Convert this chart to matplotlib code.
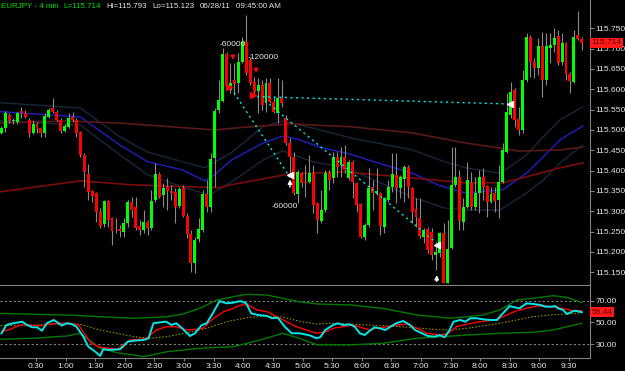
import matplotlib
matplotlib.use('Agg')
import matplotlib.pyplot as plt
import matplotlib.ticker as mticker
import numpy as np

BG = '#000000'
UP = '#00ff00'
DN = '#ff0000'
WICK = '#8a8a8a'
TXT = '#e6e6e6'
AXC = '#808080'
CYAN = '#00e8e8'

plt.rcParams['font.family'] = ['Liberation Sans', 'DejaVu Sans']

# ── 4-minute EURJPY bars (minutes after midnight, first bar 23:55 the day before)
start_min = -5
bar_min = 4
opens = [115.493, 115.505, 115.537, 115.521, 115.520, 115.547, 115.542, 115.525, 115.493, 115.515,
         115.505, 115.493, 115.532, 115.554, 115.545, 115.525, 115.498, 115.508, 115.532, 115.525,
         115.495, 115.439, 115.392, 115.350, 115.345, 115.299, 115.269, 115.326, 115.284, 115.255,
         115.257, 115.249, 115.271, 115.323, 115.311, 115.264, 115.254, 115.274, 115.259, 115.328,
         115.392, 115.340, 115.360, 115.350, 115.348, 115.313, 115.358, 115.289, 115.244, 115.173,
         115.232, 115.254, 115.343, 115.311, 115.431, 115.549, 115.572, 115.687, 115.608, 115.623,
         115.616, 115.667, 115.717, 115.672, 115.618, 115.596, 115.611, 115.567, 115.616, 115.569,
         115.542, 115.579, 115.530, 115.468, 115.434, 115.343, 115.394, 115.372, 115.372, 115.394,
         115.321, 115.276, 115.303, 115.394, 115.382, 115.434, 115.414, 115.434, 115.382, 115.422,
         115.370, 115.318, 115.237, 115.267, 115.360, 115.345, 115.345, 115.262, 115.328, 115.360,
         115.390, 115.358, 115.380, 115.409, 115.358, 115.306, 115.284, 115.237, 115.257, 115.249,
         115.193, 115.198, 115.247, 115.124, 115.210, 115.365, 115.385, 115.274, 115.311, 115.370,
         115.311, 115.345, 115.385, 115.362, 115.323, 115.345, 115.328, 115.372, 115.446, 115.537,
         115.599, 115.527, 115.500, 115.623, 115.729, 115.667, 115.653, 115.707, 115.623, 115.702,
         115.709, 115.731, 115.667, 115.714, 115.638, 115.618, 115.734, 115.724]
highs = [115.510, 115.547, 115.542, 115.530, 115.545, 115.557, 115.549, 115.530, 115.525, 115.520,
         115.508, 115.542, 115.554, 115.579, 115.549, 115.530, 115.515, 115.542, 115.545, 115.530,
         115.498, 115.444, 115.417, 115.353, 115.348, 115.308, 115.328, 115.328, 115.286, 115.284,
         115.267, 115.284, 115.328, 115.335, 115.335, 115.279, 115.303, 115.279, 115.353, 115.419,
         115.397, 115.370, 115.382, 115.365, 115.358, 115.360, 115.365, 115.296, 115.254, 115.237,
         115.284, 115.353, 115.377, 115.444, 115.554, 115.623, 115.702, 115.692, 115.665, 115.665,
         115.690, 115.729, 115.783, 115.677, 115.631, 115.628, 115.623, 115.628, 115.628, 115.581,
         115.628, 115.623, 115.537, 115.481, 115.446, 115.402, 115.397, 115.414, 115.439, 115.414,
         115.323, 115.353, 115.402, 115.402, 115.446, 115.446, 115.458, 115.463, 115.426, 115.426,
         115.372, 115.321, 115.271, 115.407, 115.377, 115.407, 115.348, 115.335, 115.377, 115.444,
         115.444, 115.390, 115.414, 115.414, 115.360, 115.333, 115.333, 115.259, 115.262, 115.259,
         115.222, 115.249, 115.271, 115.279, 115.458, 115.458, 115.402, 115.333, 115.422, 115.397,
         115.385, 115.402, 115.407, 115.365, 115.360, 115.360, 115.414, 115.468, 115.591, 115.618,
         115.603, 115.557, 115.648, 115.739, 115.734, 115.677, 115.727, 115.741, 115.739, 115.739,
         115.751, 115.746, 115.739, 115.717, 115.643, 115.746, 115.793, 115.729]
lows = [115.490, 115.495, 115.517, 115.515, 115.515, 115.530, 115.530, 115.483, 115.490, 115.493,
        115.483, 115.483, 115.530, 115.542, 115.522, 115.493, 115.495, 115.505, 115.520, 115.483,
        115.434, 115.360, 115.328, 115.323, 115.274, 115.259, 115.262, 115.262, 115.217, 115.247,
        115.237, 115.237, 115.262, 115.286, 115.254, 115.242, 115.247, 115.242, 115.254, 115.323,
        115.333, 115.311, 115.303, 115.328, 115.271, 115.308, 115.286, 115.235, 115.151, 115.148,
        115.225, 115.249, 115.299, 115.299, 115.360, 115.542, 115.569, 115.603, 115.591, 115.586,
        115.591, 115.665, 115.636, 115.611, 115.581, 115.542, 115.549, 115.545, 115.567, 115.542,
        115.517, 115.557, 115.463, 115.385, 115.340, 115.321, 115.360, 115.335, 115.370, 115.296,
        115.247, 115.271, 115.299, 115.353, 115.370, 115.385, 115.385, 115.394, 115.377, 115.333,
        115.299, 115.235, 115.230, 115.262, 115.303, 115.340, 115.242, 115.247, 115.323, 115.348,
        115.321, 115.333, 115.323, 115.333, 115.271, 115.262, 115.235, 115.222, 115.198, 115.180,
        115.156, 115.188, 115.123, 115.123, 115.208, 115.360, 115.254, 115.254, 115.308, 115.303,
        115.303, 115.296, 115.328, 115.286, 115.321, 115.299, 115.284, 115.370, 115.444, 115.530,
        115.508, 115.488, 115.493, 115.618, 115.631, 115.628, 115.636, 115.581, 115.611, 115.665,
        115.692, 115.660, 115.660, 115.623, 115.591, 115.616, 115.722, 115.697]
closes = [115.505, 115.542, 115.522, 115.524, 115.542, 115.542, 115.532, 115.493, 115.515, 115.503,
          115.493, 115.535, 115.549, 115.545, 115.525, 115.498, 115.510, 115.530, 115.525, 115.493,
          115.439, 115.397, 115.348, 115.338, 115.299, 115.264, 115.326, 115.279, 115.252, 115.253,
          115.252, 115.271, 115.323, 115.303, 115.259, 115.254, 115.274, 115.259, 115.326, 115.392,
          115.335, 115.358, 115.350, 115.345, 115.311, 115.355, 115.289, 115.244, 115.173, 115.230,
          115.257, 115.343, 115.311, 115.429, 115.547, 115.574, 115.687, 115.608, 115.616, 115.613,
          115.667, 115.717, 115.640, 115.616, 115.594, 115.611, 115.562, 115.616, 115.569, 115.545,
          115.579, 115.567, 115.468, 115.434, 115.345, 115.397, 115.370, 115.370, 115.394, 115.316,
          115.279, 115.303, 115.394, 115.377, 115.434, 115.409, 115.434, 115.402, 115.422, 115.372,
          115.316, 115.237, 115.267, 115.358, 115.345, 115.350, 115.264, 115.333, 115.360, 115.392,
          115.358, 115.385, 115.409, 115.360, 115.299, 115.286, 115.239, 115.254, 115.205, 115.193,
          115.200, 115.247, 115.124, 115.208, 115.365, 115.385, 115.276, 115.311, 115.377, 115.311,
          115.345, 115.385, 115.360, 115.323, 115.343, 115.326, 115.372, 115.451, 115.545, 115.594,
          115.525, 115.500, 115.623, 115.729, 115.667, 115.653, 115.707, 115.623, 115.707, 115.709,
          115.727, 115.665, 115.714, 115.638, 115.621, 115.729, 115.724, 115.714]

# ── overlays on price (read at a handful of minutes, drawn as polylines)
slow_ma_t = [-6, 61, 115, 211, 232, 287, 348, 411, 465, 493, 520, 561, 584]
slow_ma = [115.517, 115.522, 115.517, 115.500, 115.505, 115.515, 115.508, 115.493, 115.468,
           115.458, 115.448, 115.451, 115.458]
mid_ma_t = [-6, 75, 128, 216, 227, 287, 343, 465, 503, 527, 561, 584]
mid_ma = [115.348, 115.375, 115.365, 115.358, 115.365, 115.392, 115.397, 115.370, 115.370,
          115.385, 115.407, 115.419]
band_mid_t = [-6, 75, 115, 143, 178, 201, 211, 228, 260, 280, 294, 320, 348, 376, 411, 437, 465,
              503, 527, 544, 561, 584]
band_mid = [115.545, 115.532, 115.463, 115.422, 115.402, 115.375, 115.390, 115.426, 115.468,
            115.485, 115.478, 115.456, 115.441, 115.419, 115.394, 115.365, 115.345, 115.353,
            115.394, 115.434, 115.476, 115.510]
band_up_t = [-6, 75, 115, 143, 178, 201, 228, 260, 280, 310, 348, 411, 444, 465, 500, 510, 527,
             544, 561, 584]
band_up = [115.567, 115.554, 115.483, 115.446, 115.422, 115.407, 115.444, 115.508, 115.522,
           115.505, 115.481, 115.451, 115.422, 115.407, 115.394, 115.409, 115.439, 115.483,
           115.525, 115.557]
band_lo_t = [-6, 75, 115, 143, 178, 206, 228, 260, 280, 310, 345, 411, 444, 465, 500, 527, 544,
             561, 584]
band_lo = [115.522, 115.512, 115.439, 115.390, 115.360, 115.340, 115.372, 115.426, 115.449,
           115.422, 115.407, 115.335, 115.308, 115.303, 115.303, 115.345, 115.377, 115.419,
           115.463]

# ── oscillator panel
osc_t = [-5, 0, 7, 16, 21, 26, 31, 36, 41, 48, 53, 56, 61, 66, 71, 78, 83, 90, 95, 98, 105, 115,
         118, 123, 129, 139, 144, 149, 156, 162, 167, 172, 178, 186, 191, 198, 203, 210, 216, 223,
         230, 237, 243, 248, 255, 264, 269, 275, 282, 289, 297, 308, 314, 318, 323, 331, 336, 341,
         348, 353, 358, 363, 367, 373, 378, 384, 389, 395, 402, 409, 414, 421, 427, 434, 439, 444,
         449, 453, 460, 465, 470, 476, 483, 490, 497, 503, 510, 515, 520, 527, 534, 541, 546, 552,
         556, 559, 564, 568, 573, 576, 583]
osc = [40.1, 47.7, 49.3, 50.7, 47.7, 45.6, 45.6, 42.5, 49.3, 52.3, 49.3, 47.1, 49.3, 48.6, 46.1,
       37.0, 27.8, 23.2, 19.3, 25.4, 24.8, 25.4, 27.8, 32.4, 33.3, 33.9, 35.5, 49.3, 50.2, 50.7,
       47.7, 49.3, 44.7, 37.6, 40.1, 47.7, 49.3, 59.9, 69.7, 67.6, 68.2, 69.7, 67.6, 58.4, 56.9,
       56.0, 53.9, 54.4, 46.1, 40.1, 40.1, 38.0, 35.5, 36.5, 43.1, 47.7, 49.3, 47.7, 48.3, 46.1,
       40.1, 38.5, 41.6, 45.6, 44.7, 43.1, 46.1, 49.3, 51.4, 47.7, 43.1, 40.1, 37.6, 37.0, 38.5,
       36.4, 43.1, 50.7, 52.3, 50.7, 53.9, 53.9, 52.9, 52.3, 52.3, 58.4, 65.1, 63.9, 63.0, 67.6,
       67.0, 66.1, 64.5, 64.5, 65.1, 63.0, 61.5, 57.8, 59.9, 60.8, 59.44]
sig_t = [-5, 4, 14, 24, 34, 44, 54, 64, 73, 80, 86, 95, 105, 113, 118, 125, 135, 142, 152, 162,
         172, 183, 193, 199, 210, 220, 230, 237, 245, 254, 264, 274, 284, 294, 304, 314, 324, 331,
         341, 351, 362, 368, 375, 385, 395, 405, 416, 426, 439, 448, 456, 466, 476, 487, 497, 507,
         517, 527, 537, 547, 557, 568, 574, 583]
sig = [41.6, 43.8, 47.7, 47.7, 46.8, 48.6, 49.3, 49.3, 47.7, 38.5, 30.9, 27.2, 26.3, 25.4, 29.4,
       33.9, 34.6, 35.5, 43.1, 46.1, 46.1, 43.1, 43.8, 44.7, 53.9, 59.9, 63.0, 66.1, 66.1, 61.5,
       59.9, 55.3, 50.7, 46.1, 43.1, 40.1, 41.6, 44.7, 46.1, 47.7, 44.7, 43.1, 44.7, 46.1, 47.7,
       48.6, 44.7, 40.1, 38.5, 40.1, 46.1, 48.3, 50.2, 51.4, 52.9, 56.9, 60.8, 63.0, 65.1, 65.1,
       63.9, 62.1, 60.8, 60.8]
osc_up_t = [-6, 27, 61, 95, 129, 163, 179, 196, 213, 230, 244, 264, 280, 297, 315, 348, 381, 416,
            449, 467, 483, 500, 517, 533, 554, 568, 583]
osc_up = [58.4, 57.5, 56.9, 55.3, 53.9, 55.3, 57.8, 63.0, 70.6, 73.7, 75.9, 75.2, 72.2, 69.0, 67.0,
          66.1, 63.0, 56.9, 53.9, 55.3, 56.9, 61.5, 70.6, 72.2, 74.6, 73.1, 68.2]
osc_lo_t = [-6, 27, 61, 75, 95, 115, 129, 139, 163, 196, 230, 257, 280, 297, 315, 348, 381, 416,
            442, 467, 500, 533, 554, 568, 583]
osc_lo = [34.6, 35.5, 37.6, 40.1, 26.3, 21.7, 20.2, 18.6, 23.2, 26.3, 27.8, 33.9, 40.1, 35.5, 29.4,
          29.4, 30.9, 35.5, 37.0, 38.5, 40.1, 41.0, 43.1, 46.1, 49.3]
osc_mid_t = [-6, 27, 61, 75, 95, 129, 145, 163, 183, 203, 223, 244, 264, 280, 297, 315, 331, 365,
             399, 432, 449, 467, 483, 500, 517, 533, 551, 568, 583]
osc_mid = [47.1, 47.7, 48.6, 48.3, 43.1, 37.0, 35.5, 37.0, 40.6, 44.7, 50.7, 54.4, 56.0, 54.8,
           51.2, 48.5, 49.3, 47.7, 46.1, 43.8, 43.1, 44.7, 46.8, 49.3, 52.3, 55.3, 56.9, 57.8, 59.0]

# ── trade marks: (minute, price)
trade_lines = [((227.5, 115.603), (285, 115.392)),
               ((254, 115.582), (508, 115.564)),
               ((262, 115.572), (436, 115.222))]
entry_marks = [(225.5, 115.606), (250, 115.586)]
exit_marks = [(287, 115.390), (436, 115.217), (510, 115.564)]

W, H = 625, 371
fig = plt.figure(figsize=(W / 100, H / 100), dpi=100)
fig.patch.set_facecolor(BG)

XL = (-6.5, 591.3)
ax = fig.add_axes([0, (H - 285) / H, 590 / W, 285 / H])
ax2 = fig.add_axes([0, (H - 358) / H, 590 / W, (358 - 286) / H])
for a in (ax, ax2):
    a.set_facecolor(BG)
    a.set_xlim(*XL)
    for s in ('top', 'left'):
        a.spines[s].set_visible(False)
    for s in ('right', 'bottom'):
        a.spines[s].set_color(AXC)
        a.spines[s].set_linewidth(0.8)

# price overlays
ax.plot(band_up_t, band_up, color='#17283a', lw=1, zorder=1)
ax.plot(band_lo_t, band_lo, color='#17283a', lw=1, zorder=1)
ax.plot(band_mid_t, band_mid, color='#2020c0', lw=1, zorder=1)
ax.plot(slow_ma_t, slow_ma, color='#5a1818', lw=1.2, zorder=1)
ax.plot(mid_ma_t, mid_ma, color='#7a0c0c', lw=1.2, zorder=1)

# candles
t = start_min + bar_min * np.arange(len(opens))
o, hi, lo, c = map(np.array, (opens, highs, lows, closes))
up = c > o
ax.vlines(t, lo, hi, color=WICK, lw=0.8, zorder=2)
body_lo = np.minimum(o, c)
body_h = np.maximum(np.abs(c - o), 0.002)
ax.bar(t, body_h, bottom=body_lo, width=3.0, color=np.where(up, UP, DN),
       linewidth=0, zorder=3)

ax.set_ylim(115.1188, 115.8196)
ax.yaxis.tick_right()
ax.set_yticks(np.arange(115.15, 115.751, 0.05))
ax.yaxis.set_major_formatter(mticker.FormatStrFormatter('%.3f'))
ax.tick_params(axis='y', colors=AXC, labelcolor=TXT, labelsize=6, length=3, width=0.8, pad=1)
ax.set_xticks([])

# trades
for (x0, y0), (x1, y1) in trade_lines:
    ax.plot([x0, x1], [y0, y1], color=CYAN, lw=1, ls=(0, (1.5, 2.5)), zorder=4)
for x, y in entry_marks:
    ax.plot(x, y, marker='>', color=DN, ms=4, zorder=5)
for x, y in exit_marks:
    ax.plot(x, y, marker='<', color='white', ms=4, zorder=5)
arrow_dn = dict(arrowstyle='-|>', color=DN, lw=1, mutation_scale=6)
arrow_up = dict(arrowstyle='-|>', color='white', lw=1, mutation_scale=6)
ax.annotate('', xy=(229.5, 115.665), xytext=(229.5, 115.692), arrowprops=arrow_dn, zorder=5)
ax.annotate('', xy=(253, 115.633), xytext=(253, 115.657), arrowprops=arrow_dn, zorder=5)
ax.annotate('', xy=(287.3, 115.385), xytext=(287.3, 115.353), arrowprops=arrow_up, zorder=5)
ax.annotate('', xy=(436, 115.150), xytext=(436, 115.121), arrowprops=arrow_up, zorder=5)
ax.text(216.4, 115.709, '-60000', color=TXT, fontsize=6, va='center', ha='left', zorder=6)
ax.text(244, 115.677, '-120000', color=TXT, fontsize=6, va='center', ha='left', zorder=6)
ax.text(269, 115.311, '-60000', color=TXT, fontsize=6, va='center', ha='left', zorder=6)

ax.text(1.002, closes[-1], f'{closes[-1]:.3f}', transform=ax.get_yaxis_transform(),
        color='#5a0000', fontsize=6, va='center', ha='left',
        bbox=dict(boxstyle='square,pad=0.2', fc='#ff1a1a', ec='none'), zorder=7)

# oscillator panel
ax2.axhline(70, color=AXC, lw=0.8, ls=(0, (2, 2)))
ax2.axhline(30, color=AXC, lw=0.8, ls=(0, (2, 2)))
ax2.plot(osc_up_t, osc_up, color='#007a00', lw=1)
ax2.plot(osc_lo_t, osc_lo, color='#007a00', lw=1)
ax2.plot(osc_mid_t, osc_mid, color='#8a8a00', lw=0.8, ls=(0, (1.5, 1.5)))
ax2.plot(sig_t, sig, color=DN, lw=1)
ax2.plot(osc_t, osc, color=CYAN, lw=1.4)
ax2.set_ylim(17.4, 83.5)
ax2.yaxis.tick_right()
ax2.set_yticks([30, 50, 70])
ax2.yaxis.set_major_formatter(mticker.FormatStrFormatter('%.2f'))
ax2.tick_params(axis='y', colors=AXC, labelcolor=TXT, labelsize=6, length=3, width=0.8, pad=1)
ticks = list(range(30, 571, 30))
ax2.set_xticks(ticks)
ax2.set_xticklabels([f'{m // 60}:{m % 60:02d}' for m in ticks])
ax2.tick_params(axis='x', colors=AXC, labelcolor=TXT, labelsize=6, length=2, width=0.8, pad=1.5)
ax2.text(1.002, osc[-1], f'{osc[-1]:.2f}', transform=ax2.get_yaxis_transform(),
         color='#5a0000', fontsize=6, va='center', ha='left',
         bbox=dict(boxstyle='square,pad=0.2', fc='#ff1a1a', ec='none'), zorder=7)

# header, placed piece by piece like the platform does
ty = 1 - 6 / H
head = [(1, 'EURJPY - 4 min', '#00e000'),
        (63, f'L={closes[-1]:.3f}', '#00e000'),
        (106, f'Hi={max(highs):.3f}', TXT),
        (152, f'Lo={min(lows):.3f}', TXT),
        (200, '06/28/11', TXT),
        (236, '09:45:00 AM', TXT)]
for px, s, col in head:
    fig.text(px / W, ty, s, color=col, fontsize=5.8, va='center')

fig.savefig('out.png', dpi=100, facecolor=BG)
